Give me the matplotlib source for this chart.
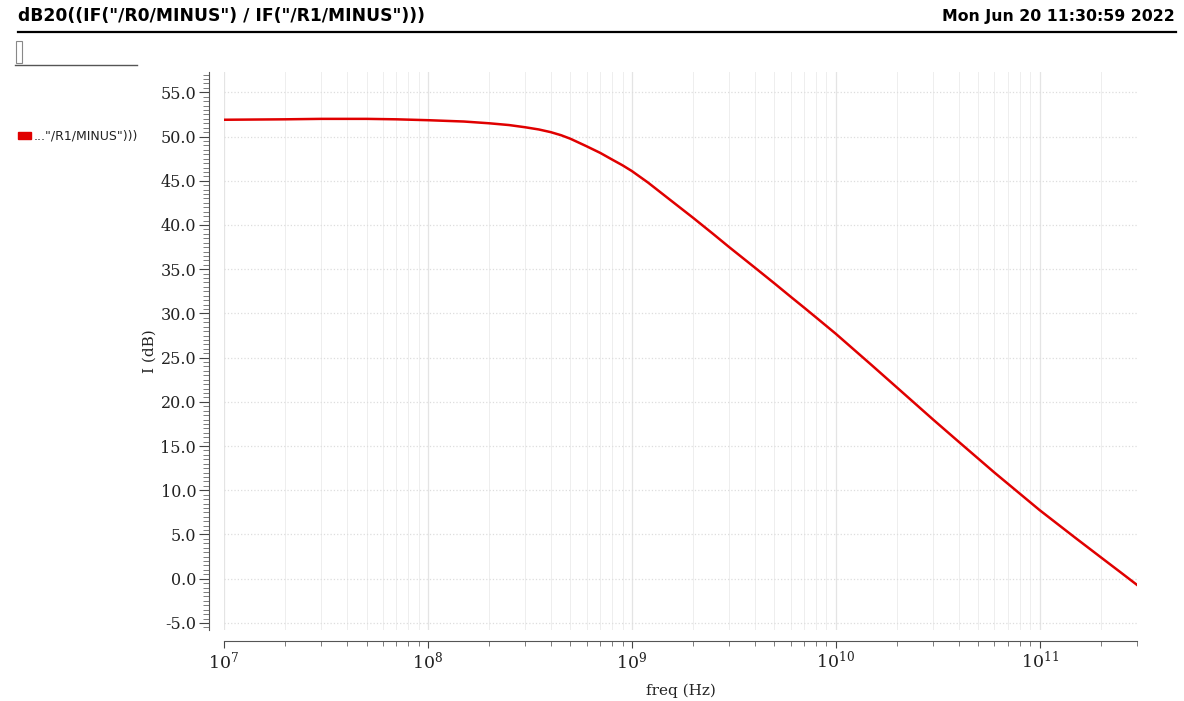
import matplotlib.pyplot as plt
from matplotlib.ticker import MultipleLocator, FormatStrFormatter, LogLocator, NullFormatter
from matplotlib.patches import Rectangle
from matplotlib.lines import Line2D

plot_title = 'dB20((IF("/R0/MINUS") / IF("/R1/MINUS")))'
plot_date = "Mon Jun 20 11:30:59 2022"
trace_name = '..."/R1/MINUS")))'

# values
freq = [1e7, 2e7, 3e7, 5e7, 7e7, 1e8, 1.5e8, 2e8, 2.5e8, 3e8, 3.5e8, 4e8, 4.5e8, 5e8,
        6e8, 7e8, 8e8, 9e8,
        1e9, 1.2e9, 1.5e9, 2e9, 2.5e9, 3e9, 4e9, 5e9, 6e9, 7e9, 8e9,
        1e10, 1.5e10, 2e10, 3e10, 4e10, 6e10, 1e11, 1.5e11, 2e11, 2.5e11, 3e11]
mag_db = [51.9, 51.95, 52.0, 52.0, 51.95, 51.85, 51.7, 51.5, 51.3, 51.05, 50.8, 50.5, 50.15, 49.75,
          48.9, 48.15, 47.4, 46.75,
          46.1, 44.8, 43.05, 40.8, 39.0, 37.5, 35.2, 33.4, 31.9, 30.65, 29.55,
          27.7, 24.15, 21.6, 18.0, 15.5, 12.0, 7.75, 4.6, 2.4, 0.7, -0.7]

fig = plt.figure(figsize=(11.84, 7.01), dpi=100)
plt.rcParams["mathtext.fontset"] = "dejavuserif"
ax = fig.add_axes([224 / 1184, 1 - 630 / 701, (1137 - 224) / 1184, (630 - 72) / 701])

ax.plot(freq, mag_db, color="#e00000", lw=1.8)
ax.set_xscale("log")
ax.set_xlim(1e7, 3e11)
ax.set_ylim(-5.8, 57.3)

ax.yaxis.set_major_locator(MultipleLocator(5))
ax.yaxis.set_minor_locator(MultipleLocator(0.5))
ax.yaxis.set_major_formatter(FormatStrFormatter("%.1f"))
ax.xaxis.set_major_locator(LogLocator(base=10))
ax.xaxis.set_minor_locator(LogLocator(base=10, subs=range(2, 10)))
ax.xaxis.set_minor_formatter(NullFormatter())

ax.grid(True, which="major", axis="y", color="#dddddd", lw=0.9, ls=":")
ax.grid(True, which="major", axis="x", color="#e4e4e4", lw=0.9)
ax.grid(True, which="minor", axis="x", color="#eeeeee", lw=0.7)

for s in ["top", "right"]:
    ax.spines[s].set_visible(False)
ax.spines["left"].set_position(("outward", 11))
ax.spines["bottom"].set_position(("outward", 8))
ax.spines["left"].set_color("#555555")
ax.spines["bottom"].set_color("#555555")

ax.tick_params(axis="y", which="major", length=7, color="#444444", labelsize=11.5,
               labelcolor="#222222", pad=2)
ax.tick_params(axis="y", which="minor", length=4, color="#666666")
ax.tick_params(axis="x", which="major", length=5, color="#444444", labelsize=12.5,
               labelcolor="#222222", pad=2)
ax.tick_params(axis="x", which="minor", length=3.5, color="#666666")
for lab in ax.get_yticklabels() + ax.get_xticklabels():
    lab.set_family("DejaVu Serif")

ax.set_xlabel("freq (Hz)", family="DejaVu Serif", fontsize=11, color="#222222", labelpad=8)
ax.set_ylabel("I (dB)", family="DejaVu Serif", fontsize=11, color="#222222", labelpad=3)

# header
fig.text(18 / 1184, 1 - 21 / 701, plot_title, fontsize=12.3, weight="bold",
         family="DejaVu Sans", va="baseline", ha="left")
fig.text(1175 / 1184, 1 - 21 / 701, plot_date, fontsize=11.3, weight="bold",
         family="DejaVu Sans", va="baseline", ha="right")
fig.add_artist(Line2D([18 / 1184, 1176 / 1184], [1 - 32 / 701, 1 - 32 / 701],
                      color="black", lw=1.6))

# legend area
fig.add_artist(Rectangle((16 / 1184, 1 - 63 / 701), 6 / 1184, 22 / 701,
                         fill=False, ec="#888888", lw=0.8))
fig.add_artist(Line2D([15 / 1184, 137 / 1184], [1 - 65 / 701, 1 - 65 / 701],
                      color="#555555", lw=1))
fig.add_artist(Rectangle((18 / 1184, 1 - 139 / 701), 13 / 1184, 7 / 701,
                         fc="#e00000", ec="#e00000"))
fig.text(34 / 1184, 1 - 136 / 701, trace_name, fontsize=9, family="DejaVu Sans",
         va="center", ha="left", color="#222222")

fig.savefig("out.png", dpi=100)
